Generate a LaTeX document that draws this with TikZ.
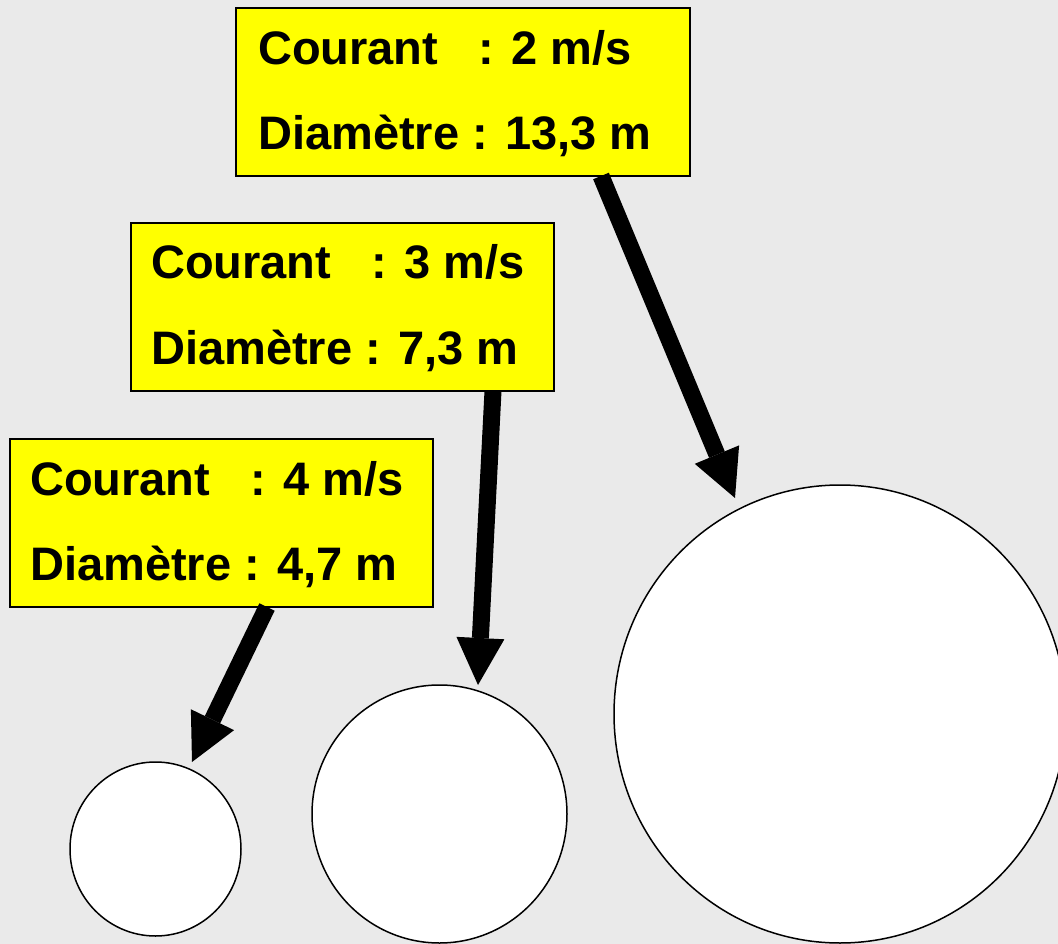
\documentclass[tikz,border=0pt]{standalone}
\usepackage{fontspec}
\setmainfont{Liberation Sans}
\usetikzlibrary{arrows.meta,shapes.geometric,calc}
\definecolor{bg}{HTML}{EAEAEA}
\definecolor{boxyellow}{HTML}{FFFF00}
\begin{document}
\begin{tikzpicture}[x=1pt,y=-1pt,
  infobox/.style={draw=black, line width=2pt, fill=boxyellow, minimum width=#1, minimum height=168pt, inner sep=0pt, outer sep=0pt, anchor=north west},
  infotext/.style={anchor=base west, inner sep=0pt, font=\fontsize{47}{56}\selectfont\bfseries},
  disc/.style={ellipse, draw=black, line width=1.5pt, fill=white, inner sep=0pt},
  bigarrow/.style={line width=17pt, -{Triangle[width=48pt,length=47pt,line width=0pt]}}]
\clip (0,0) rectangle (1058,944);
\fill[bg] (0,0) rectangle (1058,944);
\useasboundingbox (0,0) rectangle (1058,944);

% discs
\node[disc, minimum width=171pt, minimum height=174pt] (c1) at (155.5,849) {};
\node[disc, minimum width=255pt, minimum height=258pt] (c2) at (439.5,814) {};
\node[disc, minimum width=452pt, minimum height=458pt] (c3) at (840,714) {};

% boxes
\node[infobox=454pt] (b1) at (236,8) {};
\node[infobox=423pt] (b2) at (131,223) {};
\node[infobox=423pt] (b3) at (10,439) {};

% arrow tips
\coordinate (t1) at (735,498);
\coordinate (t2) at (478,685);
\coordinate (t3) at (192,762);

\draw[bigarrow] ([xshift=365pt]b1.south west) -- (t1);
\draw[bigarrow] ([xshift=362pt]b2.south west) -- (t2);
\draw[bigarrow] ([xshift=257pt]b3.south west) -- (t3);

% texts
\node[infotext] (l1a) at ($(b1.north west)+(22,57)$) {\makebox[220pt][l]{Courant}: 2 m/s};
\node[infotext] (l1b) at ($(b1.north west)+(22,142)$) {Diamètre : 13,3 m};
\node[infotext] (l2a) at ($(b2.north west)+(20,56)$) {\makebox[220pt][l]{Courant}: 3 m/s};
\node[infotext] (l2b) at ($(b2.north west)+(20,141)$) {Diamètre : 7,3 m};
\node[infotext] (l3a) at ($(b3.north west)+(20,56)$) {\makebox[220pt][l]{Courant}: 4 m/s};
\node[infotext] (l3b) at ($(b3.north west)+(20,141)$) {Diamètre : 4,7 m};
\end{tikzpicture}
\end{document}
